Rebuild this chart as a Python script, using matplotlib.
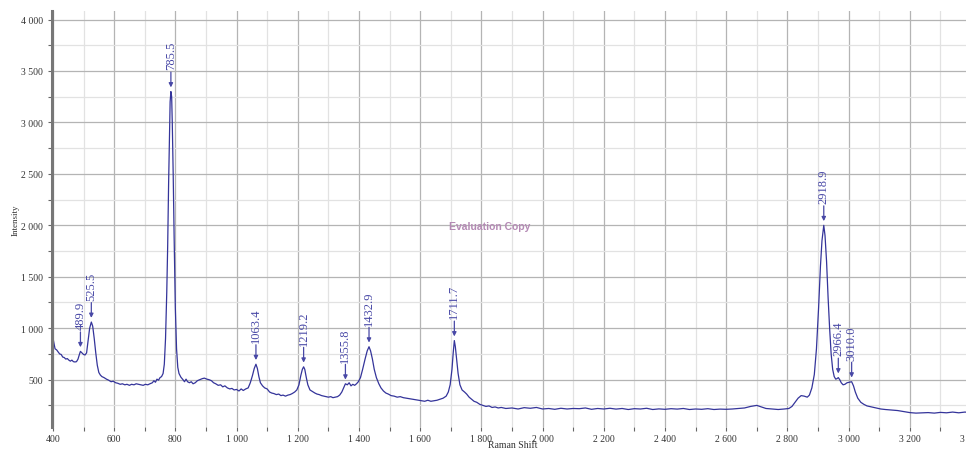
import matplotlib
matplotlib.use("Agg")
import matplotlib.pyplot as plt
from matplotlib.ticker import MultipleLocator, FuncFormatter

# Raman shift (cm-1) and intensity
shift = [400, 403, 407, 412, 417, 422, 427, 432, 437, 442, 447, 452, 457, 462, 467, 472, 477, 482, 486,
         489.9, 495, 500, 505, 510, 515, 520, 525.5, 530, 535, 540, 545, 550, 555, 560, 567, 575, 582,
         590, 597, 605, 612, 620, 627, 635, 642, 650, 657, 665, 672, 680, 687, 695, 702, 710, 717, 725,
         730, 735, 740, 745, 750, 755, 760, 764, 768, 772, 775, 778, 781, 783, 785.5, 788, 790, 793,
         796, 800, 804, 808, 812, 818, 825, 830, 835, 840, 846, 852, 858, 865, 872, 880, 888, 895, 903,
         910, 918, 925, 932, 940, 948, 955, 962, 970, 978, 985, 992, 1000, 1008, 1015, 1022, 1030, 1038,
         1045, 1052, 1058, 1063.4, 1068, 1073, 1078, 1085, 1092, 1100, 1108, 1115, 1122, 1130, 1138,
         1145, 1152, 1160, 1168, 1175, 1182, 1190, 1197, 1204, 1210, 1215, 1219.2, 1223, 1228, 1233,
         1240, 1248, 1256, 1263, 1270, 1278, 1285, 1293, 1300, 1308, 1315, 1322, 1330, 1337, 1344, 1350,
         1355.8, 1362, 1368, 1374, 1380, 1386, 1392, 1398, 1405, 1412, 1420, 1427, 1432.9, 1438, 1444,
         1450, 1457, 1465, 1472, 1480, 1488, 1496, 1505, 1515, 1525, 1535, 1545, 1555, 1565, 1575, 1585,
         1595, 1605, 1615, 1625, 1635, 1645, 1655, 1665, 1675, 1685, 1692, 1698, 1704, 1708, 1711.7,
         1715, 1719, 1724, 1730, 1737, 1745, 1752, 1760, 1768, 1776, 1785, 1795, 1805, 1815, 1825, 1835,
         1845, 1855, 1865, 1880, 1900, 1920, 1940, 1960, 1980, 2000, 2020, 2040, 2060, 2080, 2100, 2120,
         2140, 2160, 2180, 2200, 2220, 2240, 2260, 2280, 2300, 2320, 2340, 2360, 2380, 2400, 2420, 2440,
         2460, 2480, 2500, 2520, 2540, 2560, 2580, 2600, 2620, 2640, 2660, 2680, 2700, 2715, 2730, 2750,
         2770, 2790, 2805, 2815, 2825, 2835, 2845, 2855, 2865, 2872, 2880, 2888, 2895, 2902, 2908, 2913,
         2918.9, 2923, 2928, 2933, 2938, 2943, 2948, 2953, 2958, 2962, 2966.4, 2971, 2976, 2982, 2988,
         2995, 3002, 3010.0, 3016, 3022, 3030, 3040, 3050, 3060, 3075, 3090, 3105, 3120, 3140, 3160, 3180,
         3200, 3220, 3240, 3260, 3280, 3300, 3320, 3340, 3360, 3380, 3400]
intensity = [910, 860, 800, 790, 770, 750, 745, 720, 715, 700, 705, 690, 680, 690, 675, 672, 675, 700, 740,
             775, 760, 745, 740, 760, 880, 1000, 1060, 1020, 900, 760, 640, 570, 545, 530, 520, 505, 495,
             480, 485, 470, 465, 455, 460, 450, 455, 445, 455, 450, 460, 455, 450, 445, 455, 450, 460, 470,
             490, 475, 505, 495, 520, 530, 560, 650, 900, 1350, 1800, 2400, 2900, 3200, 3300, 3250, 3000, 2500,
             1900, 1200, 800, 620, 560, 525, 500, 480, 505, 480, 470, 480, 460, 470, 490, 500, 510, 515, 505,
             500, 490, 470, 460, 445, 450, 430, 440, 420, 410, 415, 400, 405, 390, 410, 395, 410, 420,
             470, 540, 610, 650, 610, 530, 470, 440, 420, 410, 380, 370, 365, 355, 360,
             345, 350, 340, 350, 355, 365, 380, 400, 450, 540, 600, 625, 600, 520, 450,
             400, 385, 370, 360, 355, 345, 340, 335, 330, 335, 325, 330, 335, 350, 380, 420,
             460, 450, 470, 440, 455, 445, 460, 480, 520, 600, 700, 780, 820, 780, 700,
             600, 520, 460, 420, 390, 370, 360, 345, 340, 330, 335, 325, 320, 315, 310, 305,
             300, 295, 290, 300, 290, 295, 300, 310, 320, 340, 380, 450, 600, 760, 880,
             820, 700, 560, 450, 400, 380, 360, 330, 310, 290, 280, 260, 250, 240, 245, 230,
             235, 225, 230, 220, 225, 215, 228, 222, 230, 215, 220, 212, 222, 215, 220, 218,
             225, 212, 220, 215, 222, 214, 220, 210, 218, 215, 222, 210, 216, 212, 218, 214,
             220, 210, 215, 212, 218, 210, 214, 212, 215, 220, 225, 240, 250, 235, 220, 215,
             210, 215, 220, 240, 280, 320, 345, 340, 330, 350, 420, 550, 800, 1200, 1600, 1850,
             2000, 1900, 1650, 1300, 1000, 750, 600, 530, 505, 510, 520, 500, 470, 450, 455,
             470, 475, 480, 440, 380, 320, 280, 260, 245, 235, 225, 215, 210, 205, 200, 190,
             180, 175, 178, 180, 175, 182, 178, 185, 178, 185, 180]

peak_labels = ["489.9", "525.5", "785.5", "1063.4", "1219.2", "1355.8", "1432.9",
               "1711.7", "2918.9", "2966.4", "3010.0"]
peak_positions = [489.9, 525.5, 785.5, 1063.4, 1219.2, 1355.8, 1432.9, 1711.7, 2918.9, 2966.4, 3010.0]

line_color = "#34349a"
label_color = "#4848a6"
serif = ["Liberation Serif", "DejaVu Serif"]

fig = plt.figure(figsize=(9.66, 4.52), dpi=100)
ax = fig.add_axes([52 / 966, 1 - 428 / 452, 919 / 966, 416 / 452])

ax.set_xlim(397, 3400)
ax.set_ylim(40, 4083)

ax.xaxis.set_major_locator(MultipleLocator(200))
ax.xaxis.set_minor_locator(MultipleLocator(100))
ax.yaxis.set_major_locator(MultipleLocator(500))
ax.yaxis.set_minor_locator(MultipleLocator(250))

def thousands(v, pos):
    return f"{int(round(v)):,}".replace(",", " ")

ax.xaxis.set_major_formatter(FuncFormatter(thousands))
ax.yaxis.set_major_formatter(FuncFormatter(thousands))

ax.grid(True, which="major", color="#b4b4b4", linewidth=0.9)
ax.grid(True, which="minor", color="#e2e2e2", linewidth=0.9)
ax.set_axisbelow(True)

for side in ["top", "right", "bottom"]:
    ax.spines[side].set_visible(False)
ax.spines["left"].set_color("#777777")
ax.spines["left"].set_linewidth(2.2)

ax.tick_params(axis="both", which="both", colors="#666666", length=3, width=0.8,
               labelcolor="#333333", labelsize=7)
ax.tick_params(axis="x", which="both", pad=2)
for lab in ax.get_xticklabels() + ax.get_yticklabels():
    lab.set_family(serif)

ax.plot(shift, intensity, color=line_color, linewidth=0.9)

for lbl, pos in zip(peak_labels, peak_positions):
    yv = intensity[shift.index(pos)]
    ax.annotate(lbl, xy=(pos, yv), xycoords="data",
                xytext=(0, 16), textcoords="offset points",
                rotation=90, ha="center", va="bottom",
                fontsize=9, color=label_color, family=serif,
                arrowprops=dict(arrowstyle="-|>", color=label_color, lw=0.9,
                                shrinkA=0, shrinkB=3, mutation_scale=6))

ax.text(1828, 1995, "Evaluation Copy", color="#b48ab4", fontsize=7.5,
        fontweight="bold", family=["Liberation Sans", "DejaVu Sans"],
        ha="center", va="center")

ax.set_ylabel("Intensity", fontsize=6.5, family=serif, color="#333333", labelpad=1)
fig.text(513 / 966, 1 - 446 / 452, "Raman Shift", fontsize=7, family=serif,
         color="#333333", ha="center", va="center")

fig.savefig("out.png", dpi=100)
